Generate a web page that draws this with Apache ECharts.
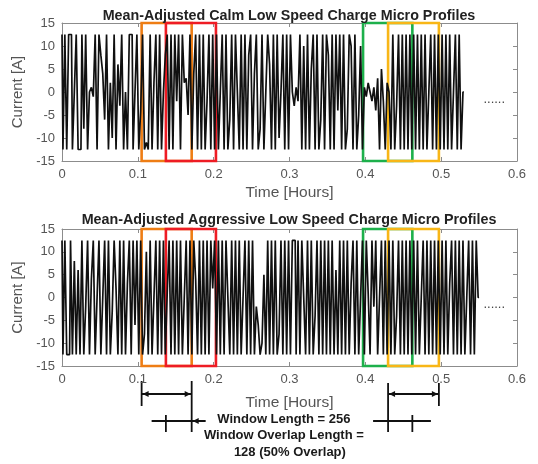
<!DOCTYPE html>
<html>
<head>
<meta charset="utf-8">
<script src="https://cdn.jsdelivr.net/npm/echarts@6/dist/echarts.min.js"></script>
<style>
  html, body { margin: 0; padding: 0; background: #fff; }
  #chart { width: 538px; height: 464px; }
</style>
</head>
<body>
<div id="chart"></div>
<script>
// Sample spacing of the micro-profile current traces, in hours
const SAMPLE_STEP = 0.0025;

// Calm low-speed charge micro profile (mean-adjusted current, A)
const calmCurrent = [
  12.5,-12.5,12.5,-12.5,12.5,12.5,-12.5,0,12.5,-12.5,-12.5,12.5,-8,12.5,-12.5,0,1,-1,12.5,-12.5,
  12.5,8,4,-6,12.5,-12.5,2,-10,12.5,-12.5,6,-3,12.5,-12.5,0,-12.5,12.5,12.5,-12.5,0,
  12.5,-12.5,-4,12.5,-12.5,-11,-12.5,12.5,-12.5,2,12.5,-12.5,12.5,-12.5,0,8,12.5,-12.5,12.5,-12.5,
  12.5,-2,12.5,-12.5,12.5,2,3,-5,12.5,-12.5,4,12.5,-12.5,12.5,-12.5,12.5,-12.5,-2,12.5,-12.5,
  12.5,-12.5,12.5,-12.5,0,12.5,-12.5,12.5,-12.5,-6,12.5,-12.5,12.5,0,-12.5,12.5,-12.5,12.5,-12.5,8,
  12.5,-12.5,4,12.5,-12.5,-8,12.5,-12.5,0,12.5,6,-12.5,12.5,-12.5,12.5,-10,0,12.5,-12.5,12.5,
  -12.5,12.5,0,-3,1,-2,12.5,-12.5,10,-12.5,12.5,-12.5,5,12.5,-12.5,12.5,-12.5,-6,12.5,-12.5,
  12.5,8,-12.5,12.5,-12.5,12.5,-4,12.5,-12.5,12.5,-12.5,-8,12.5,10,-12.5,12.5,-12.5,-5,10,-12.5,
  1,-1,2,0,-2,1,-4,3,-12.5,5,-2,-12.5,2,0,-12.5,12.5,-12.5,-3,12.5,-12.5,
  12.5,-12.5,12.5,-12.5,12.5,-12.5,12.5,-12.5,12.5,-12.5,12.5,-12.5,12.5,-12.5,0,12.5,-12.5,12.5,-12.5,12.5,
  -12.5,12.5,-12.5,12.5,-12.5,12.5,-12.5,0,12.5,-12.5,12.5,-12.5,0
];

// Aggressive low-speed charge micro profile (mean-adjusted current, A)
const aggressiveCurrent = [
  12.5,-12.5,12.5,-12.5,-12.5,12.5,-12.5,8,-12.5,6,-12.5,12.5,-12.5,-2,12.5,-12.5,4,12.5,-12.5,0,
  12.5,-12.5,0,12.5,-12.5,12.5,-12.5,-3,12.5,2,-12.5,12.5,-12.5,12.5,-12.5,3,12.5,-12.5,12.5,-6,
  12.5,-12.5,12.5,-12.5,-8,10,-12.5,12.5,-12.5,0,12.5,-12.5,12.5,-12.5,12.5,-12.5,1,12.5,-12.5,12.5,
  -12.5,12.5,-12.5,12.5,-12.5,0,12.5,-12.5,12.5,-12.5,12.5,4,-12.5,12.5,-12.5,12.5,-12.5,12.5,-12.5,12.5,
  2,12.5,-12.5,12.5,-12.5,12.5,-12.5,12.5,0,-12.5,12.5,-12.5,12.5,-12.5,12.5,-12.5,0,12.5,-12.5,12.5,
  -12.5,12.5,-12.5,-2,-6,-12.5,-10,5,-12.5,12.5,-12.5,12.5,-12.5,12.5,-12.5,-8,12.5,-12.5,12.5,-12.5,
  12.5,-12.5,12.5,12.5,-12.5,12.5,-12.5,12.5,0,-12.5,12.5,-12.5,12.5,-12.5,-4,12.5,-12.5,12.5,-12.5,12.5,
  -12.5,12.5,-12.5,12.5,-12.5,6,-12.5,12.5,-12.5,12.5,-12.5,12.5,-12.5,3,12.5,-12.5,12.5,-12.5,0,12.5,
  -12.5,12.5,1,-12.5,12.5,-2,12.5,-12.5,0,12.5,-12.5,12.5,-12.5,12.5,-12.5,12.5,-12.5,-4,12.5,-12.5,
  12.5,-12.5,12.5,-12.5,12.5,-12.5,12.5,-12.5,12.5,-12.5,0,12.5,-12.5,12.5,-12.5,12.5,-12.5,12.5,-12.5,12.5,
  -12.5,12.5,-12.5,12.5,-12.5,3,12.5,-12.5,12.5,-12.5,12.5,-12.5,12.5,-12.5,0,12.5,-12.5,12.5,-12.5,12.5,0
];

// Plot titles
const plotTitles = [
  'Mean-Adjusted Calm Low Speed Charge Micro Profiles',
  'Mean-Adjusted Aggressive Low Speed Charge Micro Profiles'
];

// Sliding analysis windows [start, end] in hours
const windowStarts = [
  { name: 'first',   range: [0.105, 0.171], color: '#EE7D14' },
  { name: 'second',  range: [0.137, 0.203], color: '#EE1C24' },
  { name: 'later1',  range: [0.397, 0.462], color: '#1DB04B' },
  { name: 'later2',  range: [0.430, 0.497], color: '#F8B617' }
];

// Axis ranges and tick labels
const timeTicks = [0, 0.1, 0.2, 0.3, 0.4, 0.5, 0.6];
const currentTicks = [-15, -10, -5, 0, 5, 10, 15];

// Annotation text
const noteLines = ['Window Length = 256', 'Window Overlap Length =', '128 (50% Overlap)'];

function toPairs(values) {
  return values.map((v, i) => [+(i * SAMPLE_STEP).toFixed(4), v]);
}

const chart = echarts.init(document.getElementById('chart'), null, { renderer: 'canvas' });

const FRAME = '#8c8c8c';
const LABEL = '#555';
const AXIS_FONT = 'Liberation Sans, Arial, sans-serif';

const grids = [
  { left: 62, top: 23, width: 455, height: 138 },
  { left: 62, top: 229, width: 455, height: 137 }
];

const frameLine = { show: true, onZero: false, lineStyle: { color: FRAME, width: 1 } };
const frameTick = { show: true, inside: true, length: 4, lineStyle: { color: FRAME } };

function xAxes(gi, nameGap) {
  return [
    {
      type: 'value', gridIndex: gi, min: timeTicks[0], max: timeTicks[timeTicks.length - 1], interval: 0.1,
      position: 'bottom', axisLine: frameLine, axisTick: frameTick,
      axisLabel: { color: LABEL, fontSize: 13, fontFamily: AXIS_FONT, margin: 7 },
      splitLine: { show: false },
      name: 'Time [Hours]', nameLocation: 'middle', nameGap: nameGap,
      nameTextStyle: { color: LABEL, fontSize: 15.5, fontFamily: AXIS_FONT }
    },
    {
      type: 'value', gridIndex: gi, min: 0, max: 0.6, interval: 0.1, position: 'top',
      axisLine: frameLine, axisTick: frameTick,
      axisLabel: { show: false }, splitLine: { show: false }
    }
  ];
}

function yAxes(gi) {
  return [
    {
      type: 'value', gridIndex: gi, min: currentTicks[0], max: currentTicks[currentTicks.length - 1], interval: 5,
      position: 'left', axisLine: frameLine, axisTick: frameTick,
      axisLabel: { color: LABEL, fontSize: 13, fontFamily: AXIS_FONT, margin: 7 },
      splitLine: { show: false },
      name: 'Current [A]', nameLocation: 'middle', nameGap: 29,
      nameTextStyle: { color: LABEL, fontSize: 15, fontFamily: AXIS_FONT }
    },
    {
      type: 'value', gridIndex: gi, min: -15, max: 15, interval: 5, position: 'right',
      axisLine: frameLine, axisTick: frameTick,
      axisLabel: { show: false }, splitLine: { show: false }
    }
  ];
}

function windowAreas() {
  return windowStarts.map(w => [
    { xAxis: w.range[0], yAxis: -15, itemStyle: { color: 'transparent', borderColor: w.color, borderWidth: 2.6 } },
    { xAxis: w.range[1], yAxis: 15 }
  ]);
}

function traceSeries(values, xi, yi) {
  return {
    type: 'line', xAxisIndex: xi, yAxisIndex: yi, data: toPairs(values),
    step: 'middle', showSymbol: false, symbol: 'none', silent: true, z: 2,
    lineStyle: { color: '#101010', width: 1.7 }
  };
}

function windowSeries(xi, yi) {
  return {
    type: 'line', xAxisIndex: xi, yAxisIndex: yi, data: [], silent: true, z: 5,
    markArea: { silent: true, label: { show: false }, data: windowAreas() }
  };
}

const titleStyle = { color: '#222', fontSize: 14.3, fontWeight: 'bold', fontFamily: AXIS_FONT };

chart.setOption({
  animation: false,
  backgroundColor: '#fff',
  title: [
    { text: plotTitles[0], left: 284, top: 4, textAlign: 'center', textStyle: titleStyle },
    { text: plotTitles[1], left: 284, top: 208, textAlign: 'center', textStyle: titleStyle }
  ],
  grid: grids,
  xAxis: [...xAxes(0, 24), ...xAxes(1, 29)],
  yAxis: [...yAxes(0), ...yAxes(1)],
  series: [
    traceSeries(calmCurrent, 0, 0),
    windowSeries(0, 0),
    traceSeries(aggressiveCurrent, 2, 2),
    windowSeries(2, 2)
  ]
});

// Continuation marks and window-length annotation, placed from data coordinates
function px(gi, t, v) {
  return chart.convertToPixel({ xAxisIndex: gi * 2, yAxisIndex: gi * 2 }, [t, v]);
}

const ink = { stroke: '#111', lineWidth: 1.8 };
function seg(x1, y1, x2, y2) {
  return { type: 'line', shape: { x1, y1, x2, y2 }, style: ink, silent: true };
}
function arrow(x, y, dir) {
  // small filled arrowhead with its tip at (x, y); dir = +1 points right, -1 points left
  return {
    type: 'polygon', silent: true,
    shape: { points: [[x, y], [x - dir * 6, y - 3], [x - dir * 6, y + 3]] },
    style: { fill: '#111' }
  };
}

const elems = [];
[0, 1].forEach(gi => {
  const p = px(gi, 0.57, -3);
  elems.push({
    type: 'text', silent: true, x: p[0], y: p[1],
    style: { text: '......', fill: '#444', font: '13px ' + AXIS_FONT, textAlign: 'center', textVerticalAlign: 'bottom' }
  });
});

const base = px(1, 0, -15)[1];
const rowA = base + 28;
const rowB = base + 55;
const aL = px(1, windowStarts[0].range[0], 0)[0];
const aR = px(1, windowStarts[0].range[1], 0)[0];
const bL = px(1, windowStarts[1].range[0], 0)[0];
const gR = px(1, windowStarts[2].range[1], 0)[0];
const yL = px(1, windowStarts[3].range[0], 0)[0];
const yR = px(1, windowStarts[3].range[1], 0)[0];

// left pair of windows
elems.push(seg(aL, base + 15, aL, base + 40));
elems.push(seg(aR, base + 15, aR, base + 66));
elems.push(seg(aL, rowA, aR, rowA));
elems.push(arrow(aL + 1, rowA, -1), arrow(aR - 1, rowA, 1));
elems.push(seg(aL + 10, rowB, aR + 14, rowB));
elems.push(seg(bL, rowB - 6, bL, rowB + 11));
elems.push(arrow(aR + 1, rowB, -1));
// right pair of windows
elems.push(seg(yL, base + 17, yL, base + 66));
elems.push(seg(yR, base + 17, yR, base + 40));
elems.push(seg(yL, rowA, yR, rowA));
elems.push(arrow(yL + 1, rowA, -1), arrow(yR - 1, rowA, 1));
elems.push(seg(yL - 15, rowB, yR - 8, rowB));
elems.push(seg(gR, rowB - 6, gR, rowB + 11));

// annotation text
const noteX = (aR + yL) / 2 - 6;
noteLines.forEach((t, i) => {
  elems.push({
    type: 'text', silent: true, x: noteX + (i === 2 ? 6 : 0), y: base + 53 + i * 16.5,
    style: { text: t, fill: '#1a1a1a', font: 'bold 13px "Liberation Sans Narrow", "Liberation Sans", Arial, sans-serif',
             textAlign: 'center', textVerticalAlign: 'middle' }
  });
});

chart.setOption({ graphic: elems });
</script>
</body>
</html>
